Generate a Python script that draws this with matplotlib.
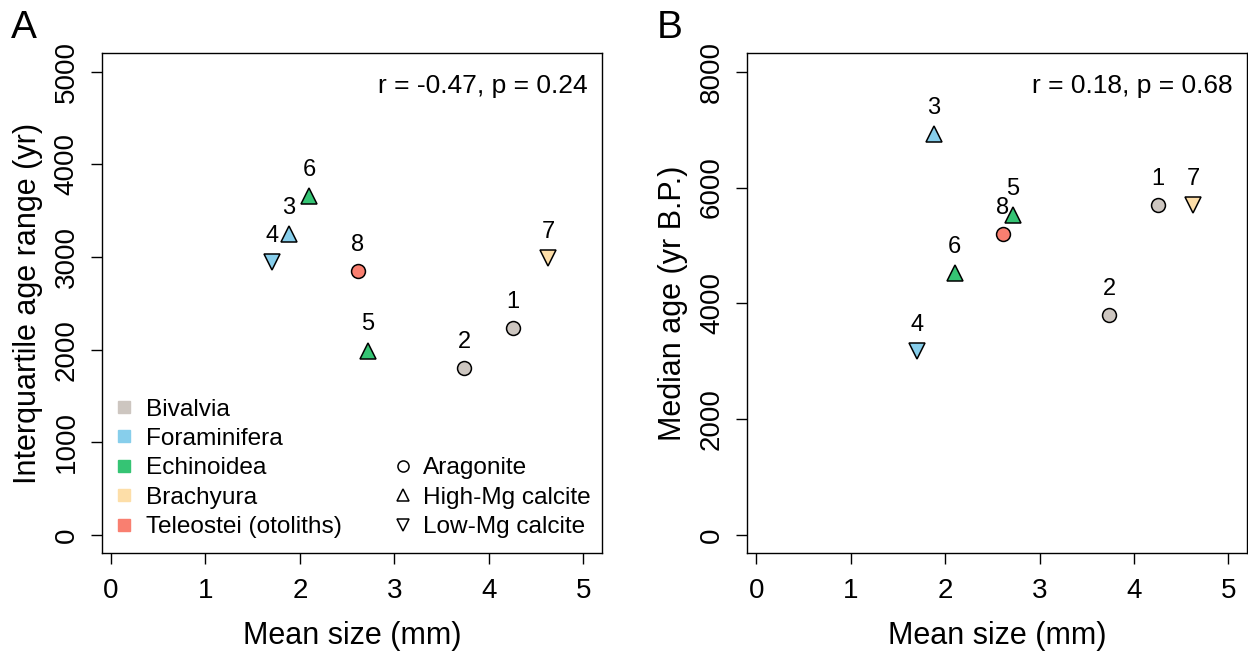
import matplotlib
matplotlib.use("Agg")
import matplotlib.pyplot as plt
from matplotlib.lines import Line2D

plt.rcParams['font.family'] = ['Liberation Sans', 'DejaVu Sans']

# data
ids = ['1', '2', '3', '4', '5', '6', '7', '8']
mean_size = [4.25, 3.74, 1.88, 1.70, 2.72, 2.10, 4.63, 2.61]
iqr_age = [2232, 1804, 3250, 2945, 1990, 3655, 2988, 2844]
median_age = [5693, 3791, 6917, 3176, 5520, 4526, 5693, 5195]
taxon = ['Bivalvia', 'Bivalvia', 'Foraminifera', 'Foraminifera', 'Echinoidea',
         'Echinoidea', 'Brachyura', 'Teleostei (otoliths)']
mineral = ['Aragonite', 'Aragonite', 'High-Mg calcite', 'Low-Mg calcite',
           'High-Mg calcite', 'High-Mg calcite', 'Low-Mg calcite', 'Aragonite']

taxa = ['Bivalvia', 'Foraminifera', 'Echinoidea', 'Brachyura', 'Teleostei (otoliths)']
taxon_cols = ['#CDC6C0', '#87CEEB', '#35C474', '#FDDEA8', '#F97F70']
minerals = ['Aragonite', 'High-Mg calcite', 'Low-Mg calcite']
mineral_mk = ['o', '^', 'v']
mineral_ms = [10, 12, 12]

col_of = dict(zip(taxa, taxon_cols))
mk_of = dict(zip(minerals, mineral_mk))
ms_of = dict(zip(minerals, mineral_ms))

fig = plt.figure(figsize=(12.48, 6.54), dpi=100)
axA = fig.add_axes([0.0817, 0.154, 0.4009, 0.7645])
axB = fig.add_axes([0.5988, 0.154, 0.4006, 0.7645])


def panel(ax, yvals, ylim, yticks, ylabel, note, letter):
    for i in range(len(ids)):
        ax.plot(mean_size[i], yvals[i], marker=mk_of[mineral[i]], ms=ms_of[mineral[i]],
                mfc=col_of[taxon[i]], mec='black', mew=1.1, ls='none', zorder=3)
        ax.annotate(ids[i], (mean_size[i], yvals[i]), xytext=(0, 14.5),
                    textcoords='offset points', ha='center', va='baseline', fontsize=17)
    ax.set_xlim(-0.095, 5.2)
    ax.set_ylim(*ylim)
    ax.set_xticks([0, 1, 2, 3, 4, 5])
    ax.set_yticks(yticks)
    ax.tick_params(direction='out', length=8, width=1, labelsize=20)
    ax.tick_params(axis='x', pad=10)
    ax.tick_params(axis='y', labelrotation=90, pad=8)
    for lab in ax.get_yticklabels():
        lab.set_va('center')
    for s in ax.spines.values():
        s.set_linewidth(1.0)
    ax.set_xlabel('Mean size (mm)', fontsize=22, labelpad=12)
    ax.set_ylabel(ylabel, fontsize=22, labelpad=8)
    ax.text(0.97, 0.935, note, transform=ax.transAxes, ha='right', va='center', fontsize=19)
    ax.text(-0.182, 1.03, letter, transform=ax.transAxes, ha='left', va='baseline', fontsize=28)


panel(axA, iqr_age, (-200, 5200), [0, 1000, 2000, 3000, 4000, 5000],
      'Interquartile age range (yr)', 'r = -0.47, p = 0.24', 'A')
panel(axB, median_age, (-320, 8320), [0, 2000, 4000, 6000, 8000],
      'Median age (yr B.P.)', 'r = 0.18, p = 0.68', 'B')

h1 = [Line2D([], [], marker='s', ls='none', color=c, ms=8.5) for c in taxon_cols]
leg1 = axA.legend(h1, taxa, loc='lower left', bbox_to_anchor=(0.02, 0.03), frameon=False,
                  fontsize=17.6, handlelength=1.0, handletextpad=0.4, labelspacing=0.3,
                  borderpad=0, borderaxespad=0)
axA.add_artist(leg1)
h2 = [Line2D([], [], marker=m, ls='none', mfc='white', mec='black', mew=1.1, ms=8)
      for m in mineral_mk]
axA.legend(h2, minerals, loc='lower left', bbox_to_anchor=(0.578, 0.03), frameon=False,
           fontsize=17.6, handlelength=1.0, handletextpad=0.3, labelspacing=0.3,
           borderpad=0, borderaxespad=0)

fig.savefig('out.png', dpi=100)
